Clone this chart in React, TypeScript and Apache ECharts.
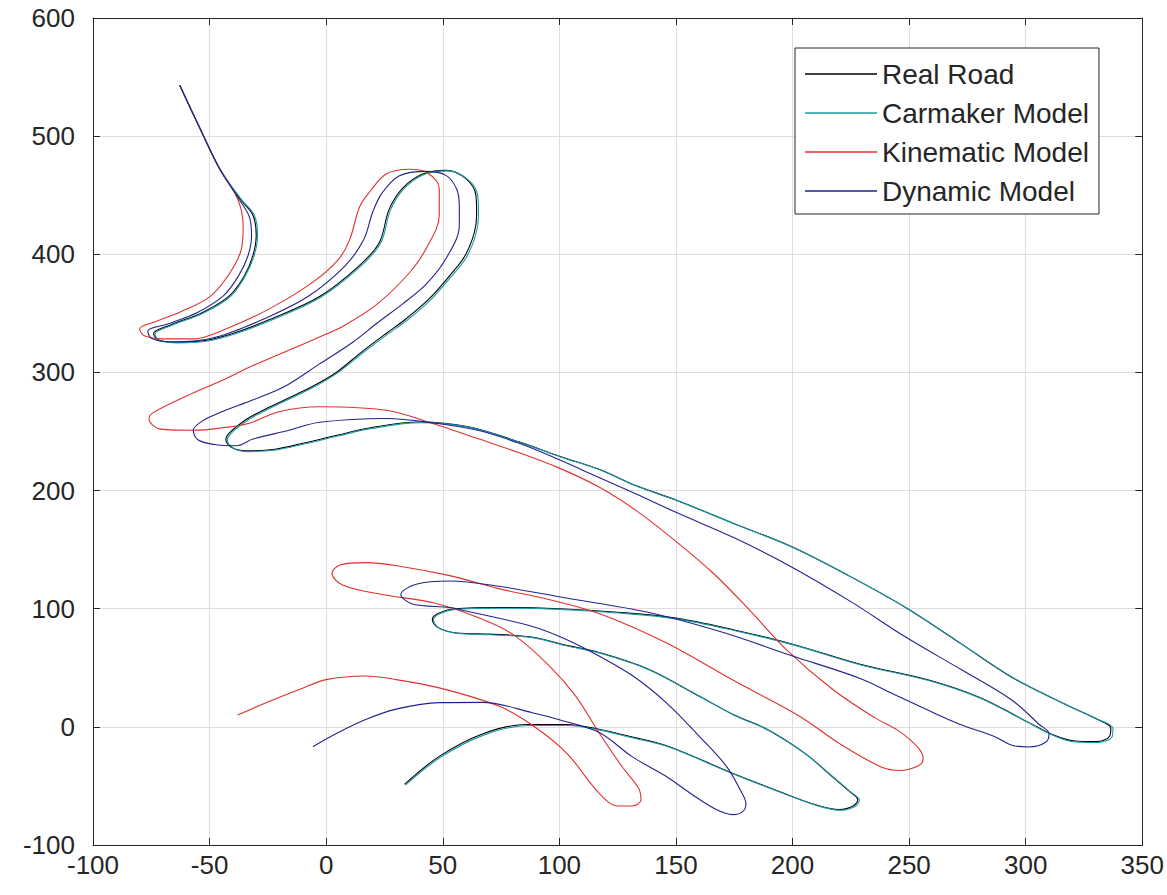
import React, { useEffect, useRef } from "react";
import * as echarts from "echarts";

const xTicks = { min: -100, max: 350, interval: 50 };
const yTicks = { min: -100, max: 600, interval: 100 };

const seriesNames = ["Real Road", "Carmaker Model", "Kinematic Model", "Dynamic Model"];
const seriesColors = ["#000000", "#1b9aa6", "#e0302c", "#22228f"];

const realRoad: number[][] = [
  [-62.8, 543], [-54, 506], [-45.6, 472], [-37, 447], [-31.4, 433], [-30, 416], [-31.4, 399],
  [-35, 382], [-41.4, 365], [-52.8, 351], [-67, 340], [-74, 333], [-72, 327.5], [-64, 325.5],
  [-52, 327], [-40, 333], [-24, 345], [-3, 364], [14, 390], [22.8, 410], [27, 438], [32.8, 456],
  [41.4, 468], [51.4, 471], [59.9, 464], [64.2, 450], [64.5, 437], [64.2, 425], [59.9, 400],
  [53, 382], [44, 362], [34, 345], [25.7, 333], [15, 317], [4.3, 300], [-6, 288], [-17, 277.5],
  [-27, 268], [-34, 260.6], [-41.4, 249], [-43, 243], [-40, 236], [-34, 233.7], [-22, 235],
  [-10, 240], [5, 247], [18.5, 253], [40, 258], [61, 254], [83, 241], [100, 229], [117, 218],
  [133, 204], [150, 192], [175, 172], [199, 153], [224, 128], [248.5, 101], [272.5, 70], [294, 42],
  [316, 20], [330, 7], [336.5, -1], [336, -8], [330.4, -12.5], [321, -12], [312, -7], [301, 4],
  [280, 25], [258, 39.8], [229, 53], [200, 70], [175, 82], [150, 92], [125, 97], [100, 100],
  [75, 101], [55, 100], [48, 96], [45.5, 91], [48, 84], [56, 79.5], [70, 78.5], [88, 76],
  [103, 69], [117, 63], [138, 49], [160, 26], [175, 10], [189, -2], [205, -22], [217, -42],
  [224, -54], [228, -61.6], [226, -67], [220, -70], [210, -66], [196, -56], [174, -39],
  [146, -16], [130, -8], [117, -2], [103, 2], [86, 2], [67, -6], [48.5, -25], [33.6, -48.7],
];

const carmakerModel: number[][] = [
  [-62.8, 543], [-54, 506], [-45.4, 472], [-36.6, 447], [-30.8, 433], [-29.4, 416], [-30.9, 399],
  [-34.6, 382], [-41, 364.5], [-52.4, 350.5], [-66.6, 339.5], [-73.4, 332.6], [-71.4, 327],
  [-63.6, 325], [-51.6, 326.4], [-39.6, 332.4], [-23.4, 344.4], [-2.5, 363.4], [14.6, 389.5],
  [23.4, 409.6], [27.6, 437.6], [33.4, 455.6], [42, 467.6], [52, 470.6], [60.6, 463.6],
  [65, 449.6], [65.3, 436.6], [65, 424.6], [60.7, 399.5], [53.8, 381.5], [44.8, 361.5],
  [34.8, 344.4], [26.4, 332.4], [15.6, 316.4], [4.8, 299.4], [-5.5, 287.4], [-16.5, 276.9],
  [-26.4, 267.4], [-33.4, 260], [-40.8, 248.5], [-42.4, 242.5], [-39.4, 235.4], [-33.4, 233],
  [-21.5, 234.4], [-9.5, 239.4], [5.5, 246.4], [19, 252.4], [40.5, 257.5], [61.5, 253.5],
  [83.5, 240.5], [100.5, 228.5], [117.5, 217.5], [133.5, 203.5], [150.5, 191.5], [175.5, 171.5],
  [199.5, 152.5], [224.6, 127.5], [249, 100.4], [273, 69.5], [294.6, 41.5], [316.6, 19.4],
  [330.8, 6.4], [337.4, -1.4], [337, -8.5], [331, -13.2], [321.4, -12.8], [312.3, -7.6],
  [301.3, 3.4], [280.3, 24.4], [258.3, 39.2], [229.3, 52.4], [200.3, 69.4], [175.3, 81.4],
  [150.3, 91.4], [125.3, 96.4], [100.3, 99.4], [75.3, 100.4], [55.3, 99.4], [48.4, 95.5],
  [46, 90.5], [48.5, 83.4], [56.4, 79], [70.4, 78], [88.4, 75.5], [103.4, 68.4], [117.4, 62.4],
  [138.4, 48.4], [160.4, 25.4], [175.4, 9.4], [189.4, -2.6], [205.4, -22.6], [217.5, -42.6],
  [224.6, -54.6], [228.7, -62.2], [226.6, -67.6], [220.4, -70.6], [210.4, -66.6], [196.4, -56.6],
  [174.4, -39.6], [146.4, -16.7], [130.4, -8.8], [117.4, -2.8], [103.4, 1.2], [86.4, 1.1],
  [67.5, -7], [49, -25.8], [34, -49.3],
];

const kinematicModel: number[][] = [
  [-62.8, 543], [-54, 506], [-45.6, 472], [-38, 447], [-35.6, 424], [-36.3, 405], [-41.4, 384],
  [-50, 364], [-62.8, 351], [-74, 342.5], [-80, 337], [-78, 331], [-70, 328.4], [-57, 328.4],
  [-42.8, 337], [-24.2, 354], [-5.7, 376.4], [5, 395], [10, 412], [14.3, 440], [18.6, 452.7],
  [25.7, 468], [35.7, 472], [42.8, 469.6], [48.5, 455.5], [48.5, 433], [42.8, 404.7], [36, 385],
  [22, 358], [8, 340], [-2.8, 330], [-17, 318], [-31.4, 305.8], [-45, 293], [-60, 280],
  [-74.2, 266], [-76, 260.6], [-71, 252], [-57, 251], [-45, 253], [-33, 257], [-20, 267],
  [-2.8, 271], [25.7, 268], [47, 256], [65, 244], [82.8, 232], [100, 219], [117, 203],
  [133, 183], [150, 157], [166, 130], [182, 98], [197, 66], [217, 32], [235, 8], [246, -4],
  [254, -18], [256, -27], [254, -33], [246, -37], [238, -34], [220, -14], [203, 9], [174, 40],
  [146, 71], [117, 96], [95, 108], [74, 117], [53, 128], [31.5, 136], [17, 139], [6, 137],
  [2.5, 130], [7, 120], [24, 112], [46, 105], [67, 91], [81, 77], [96, 51], [107, 26],
  [117, -5], [127, -34], [134, -52], [135, -62], [131, -67], [125, -67], [117, -56],
  [103, -22], [88, 2], [74, 17.6], [48.5, 33], [30, 40], [17, 43], [0, 40], [-11, 32],
  [-25, 21], [-38, 10],
];

const dynamicModel: number[][] = [
  [-62.8, 543], [-54, 506], [-45.6, 472], [-37.5, 447], [-33, 432], [-32, 416], [-33.5, 399],
  [-37.5, 382], [-44, 365], [-55, 351], [-68, 341], [-76.5, 335], [-75, 329], [-67, 326],
  [-57, 326.5], [-45, 331], [-27, 345], [-8, 364], [8, 390], [16, 412], [20, 436], [24, 452],
  [31.4, 466.5], [42.8, 470.2], [51.4, 466.8], [56, 455], [57.1, 440], [57.1, 424.6],
  [51.4, 396.4], [43, 375], [32.8, 358], [22, 342], [11.4, 325.6], [-3, 307], [-17, 289],
  [-31, 277], [-45.6, 266], [-53, 259], [-57, 251], [-55, 243], [-48, 239], [-38.5, 238],
  [-31.4, 243.6], [-16, 251], [-2.8, 257.8], [25.7, 261], [47.1, 257], [65, 251],
  [82.8, 240], [100, 226], [117, 211], [133, 197], [149.5, 182], [175, 160], [199, 136], [225, 106],
  [248.5, 76], [272.5, 48.3], [294, 22.7], [305.8, 2], [310, -5.7], [308.7, -12.8],
  [301.4, -17], [294, -15.6], [287, -8.5], [272, 2], [258, 14.2], [243, 28], [229, 41],
  [200, 60], [170, 80], [138, 97], [103, 109], [74, 119], [53, 123.5], [38.6, 120.7],
  [32, 112], [37, 104], [53, 101], [60, 98], [88.5, 85], [103, 74], [117, 60], [131.6, 43],
  [145.9, 20.3], [160, -8], [171.6, -33.3], [178, -55], [180, -65], [178.7, -71.5],
  [174.4, -74.3], [167.3, -70], [156, -56], [145.9, -42], [131, -25], [117.3, -5], [100, 6],
  [88.4, 12], [67, 20.7], [48.5, 20.5], [30, 15], [17.2, 6.4], [5, -5], [-5.7, -16.8],
];

const allData = [realRoad, carmakerModel, kinematicModel, dynamicModel];

const FONT = "'Liberation Sans', Arial, sans-serif";
const AXIS_COLOR = "#262626";

export default function App() {
  const ref = useRef<HTMLDivElement>(null);

  useEffect(() => {
    if (!ref.current) return;
    const chart = echarts.init(ref.current, undefined, { renderer: "svg" });

    const baseAxis = {
      type: "value" as const,
      axisLine: { show: true, onZero: false, lineStyle: { color: AXIS_COLOR, width: 1 } },
      axisTick: { show: true, inside: true, length: 7, lineStyle: { color: AXIS_COLOR } },
    };

    chart.setOption({
      animation: false,
      backgroundColor: "#ffffff",
      grid: { left: 93, right: 23, top: 18, bottom: 50, containLabel: false },
      legend: {
        orient: "vertical",
        left: 795,
        top: 48,
        padding: [12, 10, 9, 10],
        backgroundColor: "#ffffff",
        borderColor: AXIS_COLOR,
        borderWidth: 1,
        borderRadius: 0,
        icon: "rect",
        itemWidth: 72,
        itemHeight: 1.6,
        itemGap: 11,
        textStyle: { fontSize: 28, fontFamily: FONT, color: AXIS_COLOR, lineHeight: 28 },
        data: seriesNames,
      },
      xAxis: [
        {
          ...baseAxis,
          min: xTicks.min,
          max: xTicks.max,
          interval: xTicks.interval,
          position: "bottom",
          axisLabel: { fontSize: 26, fontFamily: FONT, color: AXIS_COLOR, margin: 7 },
          splitLine: { show: true, lineStyle: { color: "#dedede", width: 1 } },
        },
        {
          ...baseAxis,
          min: xTicks.min,
          max: xTicks.max,
          interval: xTicks.interval,
          position: "top",
          axisLabel: { show: false },
          splitLine: { show: false },
        },
      ],
      yAxis: [
        {
          ...baseAxis,
          min: yTicks.min,
          max: yTicks.max,
          interval: yTicks.interval,
          position: "left",
          axisLabel: { fontSize: 26, fontFamily: FONT, color: AXIS_COLOR, margin: 18 },
          splitLine: { show: true, lineStyle: { color: "#dedede", width: 1 } },
        },
        {
          ...baseAxis,
          min: yTicks.min,
          max: yTicks.max,
          interval: yTicks.interval,
          position: "right",
          axisLabel: { show: false },
          splitLine: { show: false },
        },
      ],
      series: seriesNames.map((name, i) => ({
        name,
        type: "line",
        xAxisIndex: 0,
        yAxisIndex: 0,
        data: allData[i],
        symbol: "none",
        smooth: 0.35,
        color: seriesColors[i],
        lineStyle: { color: seriesColors[i], width: 1.1 },
        z: 2 + i,
      })),
    });

    return () => chart.dispose();
  }, []);

  return (
    <div
      ref={ref}
      style={{ position: "fixed", left: 0, top: 0, width: 1167, height: 895, background: "#fff" }}
    />
  );
}
